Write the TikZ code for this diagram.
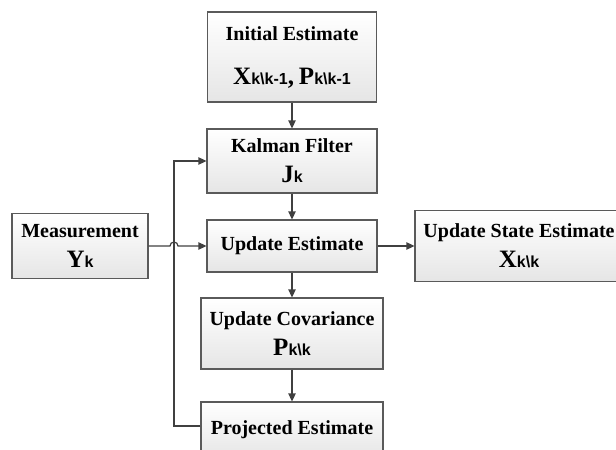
\documentclass[tikz,border=0pt]{standalone}
\usepackage{fontspec}
\setmainfont{Liberation Serif}
\newfontfamily\subsans{Liberation Sans}
\usetikzlibrary{arrows.meta, calc}

\definecolor{boxline}{HTML}{5A5A5A}
\definecolor{arrline}{HTML}{404040}

% big symbol followed by its index
\newcommand{\est}[2]{{\fontsize{18.75}{22.5}\selectfont #1}{\subsans\bfseries\fontsize{12}{22.5}\selectfont #2}}

\tikzset{
  block/.style={draw=boxline, line width=0.8pt, top color=white, bottom color=gray!20,
    inner sep=0pt, align=center, font=\bfseries\fontsize{15}{22.5}\selectfont},
  arr/.style={draw=arrline, line width=0.9pt, -{Triangle[length=6pt,width=5.5pt]}}
}

\begin{document}
\begin{tikzpicture}[x=0.75pt, y=-0.75pt]
\useasboundingbox (0,0) rectangle (616,449);
\clip (0,0) rectangle (616,449);

% Blocks
\node[block, minimum width=126.75pt, minimum height=67.5pt] (init) at (292,57)
  {Initial Estimate\\[10.5pt]\est{X}{k\textbackslash k-1}{\fontsize{18.75}{22.5}\selectfont,} \est{P}{k\textbackslash k-1}};
\node[block, minimum width=127.5pt, minimum height=48pt] (kal) at (292,161) {Kalman Filter\\\est{J}{k}};
\node[block, minimum width=127.5pt, minimum height=39pt] (upd) at (292,246) {Update Estimate};
\node[block, minimum width=102pt, minimum height=48.75pt] (meas) at (80,246) {Measurement\\\est{Y}{k}};
\node[block, minimum width=156pt, minimum height=53.25pt] (state) at (519,246) {Update State Estimate\\\est{X}{k\textbackslash k}};
\node[block, minimum width=136.5pt, minimum height=53.25pt] (cov) at (292,333.5) {Update Covariance\\\est{P}{k\textbackslash k}};
\node[block, minimum width=136.5pt, minimum height=42pt] (proj) at (292,430) {Projected Estimate};

% Main chain
\draw[arr] (init) -- (kal);
\draw[arr] (kal) -- (upd);
\draw[arr] (upd) -- (cov);
\draw[arr] (cov) -- (proj);
\draw[arr] (upd) -- (state);

% Feedback into the filter
\coordinate (fb) at (174,161);
\draw[arr] ([yshift=3pt]proj.west) -- ([yshift=3pt]fb |- proj.west) -- (fb) -- (kal.west);

% Measurement line hops over the feedback line
\draw[arr] (meas.east) -- ($(fb |- meas.east)+(-4,0)$)
  arc[start angle=180, end angle=0, radius=3pt] -- (upd.west);
\end{tikzpicture}
\end{document}
